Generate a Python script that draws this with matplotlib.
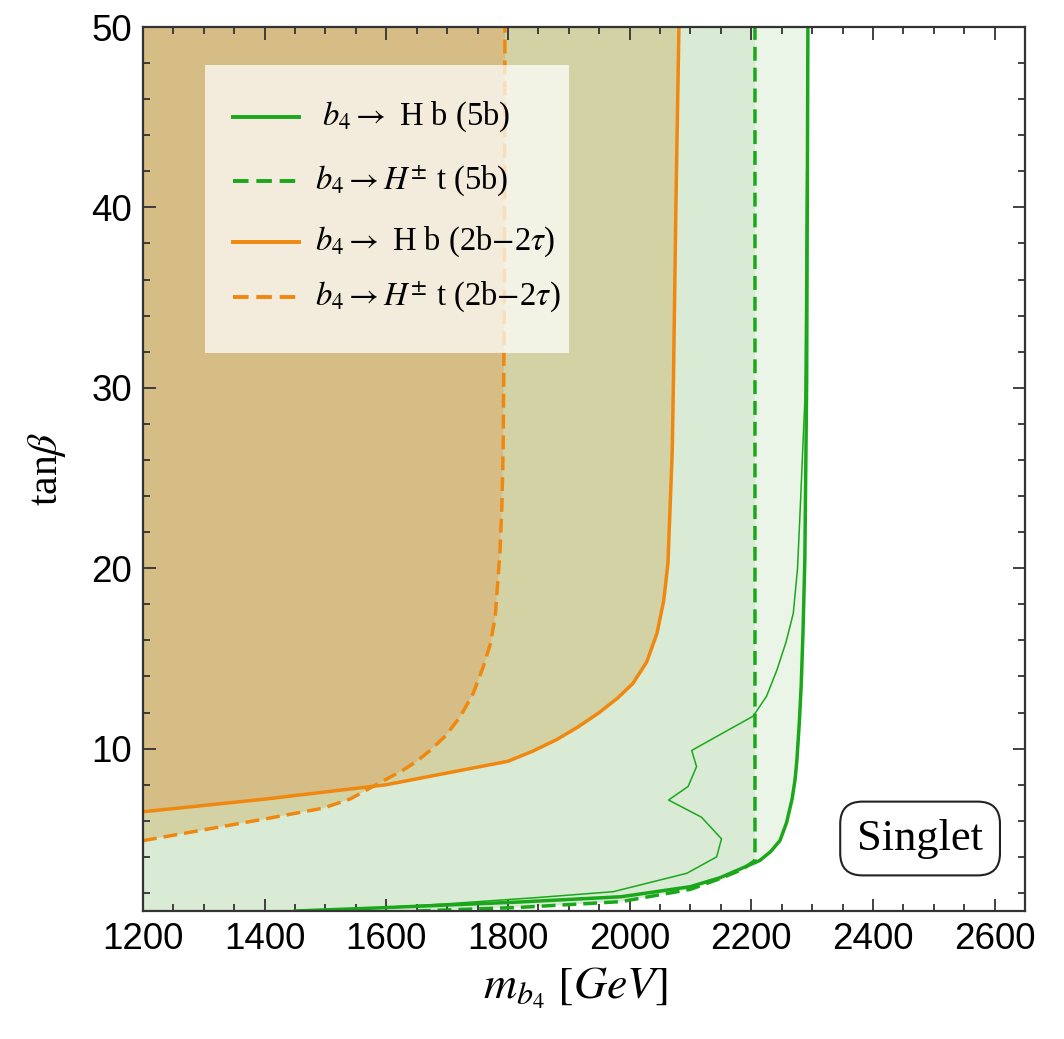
import matplotlib
matplotlib.use("Agg")
import matplotlib.pyplot as plt
from matplotlib.patches import Polygon, Rectangle
from matplotlib.lines import Line2D
from matplotlib.ticker import MultipleLocator

plt.rcParams['mathtext.fontset'] = 'stix'

# exclusion contours: (m_b4 [GeV], tan beta)
green_hb_m = [1450, 1578, 1700, 1820, 1986, 2100, 2149, 2214, 2232, 2247, 2258, 2267, 2272,
              2275, 2279, 2282, 2285, 2288, 2291, 2293]
green_hb_tb = [1.0, 1.16, 1.33, 1.5, 1.79, 2.35, 2.85, 3.8, 4.3, 4.9, 5.9, 7.2, 8.3,
               9.4, 11.5, 13.5, 16.5, 20.5, 30.4, 50]

green_ht_m = [1650, 1820, 1986, 2100, 2149, 2185, 2206, 2206]
green_ht_tb = [1.0, 1.2, 1.52, 2.2, 2.8, 3.3, 3.8, 50]

# thin unlabeled green contour
green_thin_m = [1500, 1700, 1850, 1973, 2094, 2143, 2151, 2118, 2064, 2096, 2110, 2102,
                2203, 2225, 2242, 2257, 2269, 2276, 2280, 2288, 2293]
green_thin_tb = [1.0, 1.4, 1.75, 2.07, 3.09, 4.0, 5.0, 6.2, 7.15, 7.9, 9.0, 9.9,
                 11.8, 12.9, 14.35, 15.9, 17.5, 20, 23.0, 29.3, 50]

orange_hb_m = [1200, 1400, 1600, 1800, 1840, 1880, 1915, 1950, 1980, 2005, 2028, 2045,
               2056, 2063, 2070, 2072, 2076, 2081]
orange_hb_tb = [6.5, 7.2, 8.0, 9.3, 9.85, 10.5, 11.2, 12.0, 12.8, 13.6, 14.8, 16.4,
                18.2, 20.3, 26.5, 30.4, 40, 50]

orange_ht_m = [1200, 1300, 1400, 1496, 1540, 1578, 1627, 1650, 1672, 1697, 1721, 1742,
               1759, 1771, 1779, 1787, 1790, 1792, 1794, 1795]
orange_ht_tb = [4.9, 5.5, 6.1, 6.7, 7.2, 7.9, 8.8, 9.3, 9.9, 10.7, 11.75, 13.0,
                14.5, 15.8, 17.3, 21.0, 23.5, 26.5, 35, 50]

labels = [r"$b_4 \rightarrow$ H b (5b)",
          r"$b_4 \rightarrow H^{\pm}$ t (5b)",
          r"$b_4 \rightarrow$ H b (2b$-$2$\tau$)",
          r"$b_4 \rightarrow H^{\pm}$ t (2b$-$2$\tau$)"]

green = '#1aa81a'
orange = '#f0880f'

fig = plt.figure(figsize=(10.64, 10.39), dpi=100)
ax = fig.add_axes([0.1344, 0.1232, 0.829, 0.8508])
xmin, xmax, ymin, ymax = 1200, 2650, 1, 50


def region(m, tb):
    # area to the upper left of a contour
    pts = list(zip(m, tb))
    if m[0] > xmin:
        pts = [(xmin, ymin)] + pts
    pts = pts + [(xmin, ymax)]
    return pts


ax.add_patch(Polygon(region(green_hb_m, green_hb_tb), closed=True, fc='#ebf5e7', ec='none', zorder=1))
ax.add_patch(Polygon(region(green_ht_m, green_ht_tb), closed=True, fc='#d9ead5', ec='none', zorder=1.1))
p_hb = Polygon(region(orange_hb_m, orange_hb_tb), closed=True, fc='#d2d2a5', ec='none', zorder=1.2)
ax.add_patch(p_hb)
ax.add_patch(Polygon(region(orange_ht_m, orange_ht_tb), closed=True, fc='#d2d2a5', ec='none', zorder=1.2))
overlap = Polygon(region(orange_ht_m, orange_ht_tb), closed=True, fc='#d6bc85', ec='none', zorder=1.3)
ax.add_patch(overlap)
overlap.set_clip_path(p_hb)

dash = (0, (4, 2))
ax.plot(green_thin_m, green_thin_tb, color=green, lw=1.1, zorder=3)
ax.plot(green_hb_m, green_hb_tb, color=green, lw=2.5, zorder=3)
ax.plot(green_ht_m, green_ht_tb, color=green, lw=2.5, ls=dash, zorder=3)
ax.plot(orange_hb_m, orange_hb_tb, color=orange, lw=2.5, zorder=3)
ax.plot(orange_ht_m, orange_ht_tb, color=orange, lw=2.5, ls=dash, zorder=3)

ax.set_xlim(xmin, xmax)
ax.set_ylim(ymin, ymax)

# legend box drawn by hand
ax.add_patch(Rectangle((0.070, 0.631), 0.413, 0.326, transform=ax.transAxes,
                       fc='white', alpha=0.72, ec='none', zorder=5))
styles = [(green, '-'), (green, dash), (orange, '-'), (orange, dash)]
rows_y = [0.898, 0.826, 0.757, 0.695]
text_x = [0.203, 0.195, 0.195, 0.195]
for (c, ls), yy, tx, lab in zip(styles, rows_y, text_x, labels):
    ax.add_line(Line2D([0.102, 0.177], [yy, yy], transform=ax.transAxes,
                       color=c, ls=ls, lw=2.8, zorder=6))
    ax.text(tx, yy, lab, transform=ax.transAxes, fontsize=23.5,
            family='Liberation Serif', va='center', ha='left', zorder=6)

ax.text(0.881, 0.082, "Singlet", transform=ax.transAxes, fontsize=32,
        family='Liberation Serif', ha='center', va='center', zorder=6,
        bbox=dict(boxstyle='round,pad=0.38,rounding_size=0.5', fc='white', ec='#222222', lw=1.5))

ax.xaxis.set_major_locator(MultipleLocator(200))
ax.xaxis.set_minor_locator(MultipleLocator(50))
ax.yaxis.set_major_locator(MultipleLocator(10))
ax.yaxis.set_minor_locator(MultipleLocator(2))
ax.tick_params(which='both', direction='in', top=True, right=True, color='#333333', width=1.3)
ax.tick_params(which='major', length=9, labelsize=26.5, pad=8)
ax.tick_params(which='minor', length=5)
for lab in ax.get_xticklabels() + ax.get_yticklabels():
    lab.set_family('Liberation Sans')
for s in ax.spines.values():
    s.set_linewidth(1.6)
    s.set_color('#333333')
    s.set_zorder(7)

ax.set_xlabel(r"$m_{b_4}\ [GeV]$", fontsize=33)
ax.set_ylabel(r"tan$\beta$", fontsize=30, family='Liberation Serif')
ax.xaxis.set_label_coords(0.49, -0.062)
ax.yaxis.set_label_coords(-0.085, 0.5)

fig.savefig("out.png", dpi=100)
